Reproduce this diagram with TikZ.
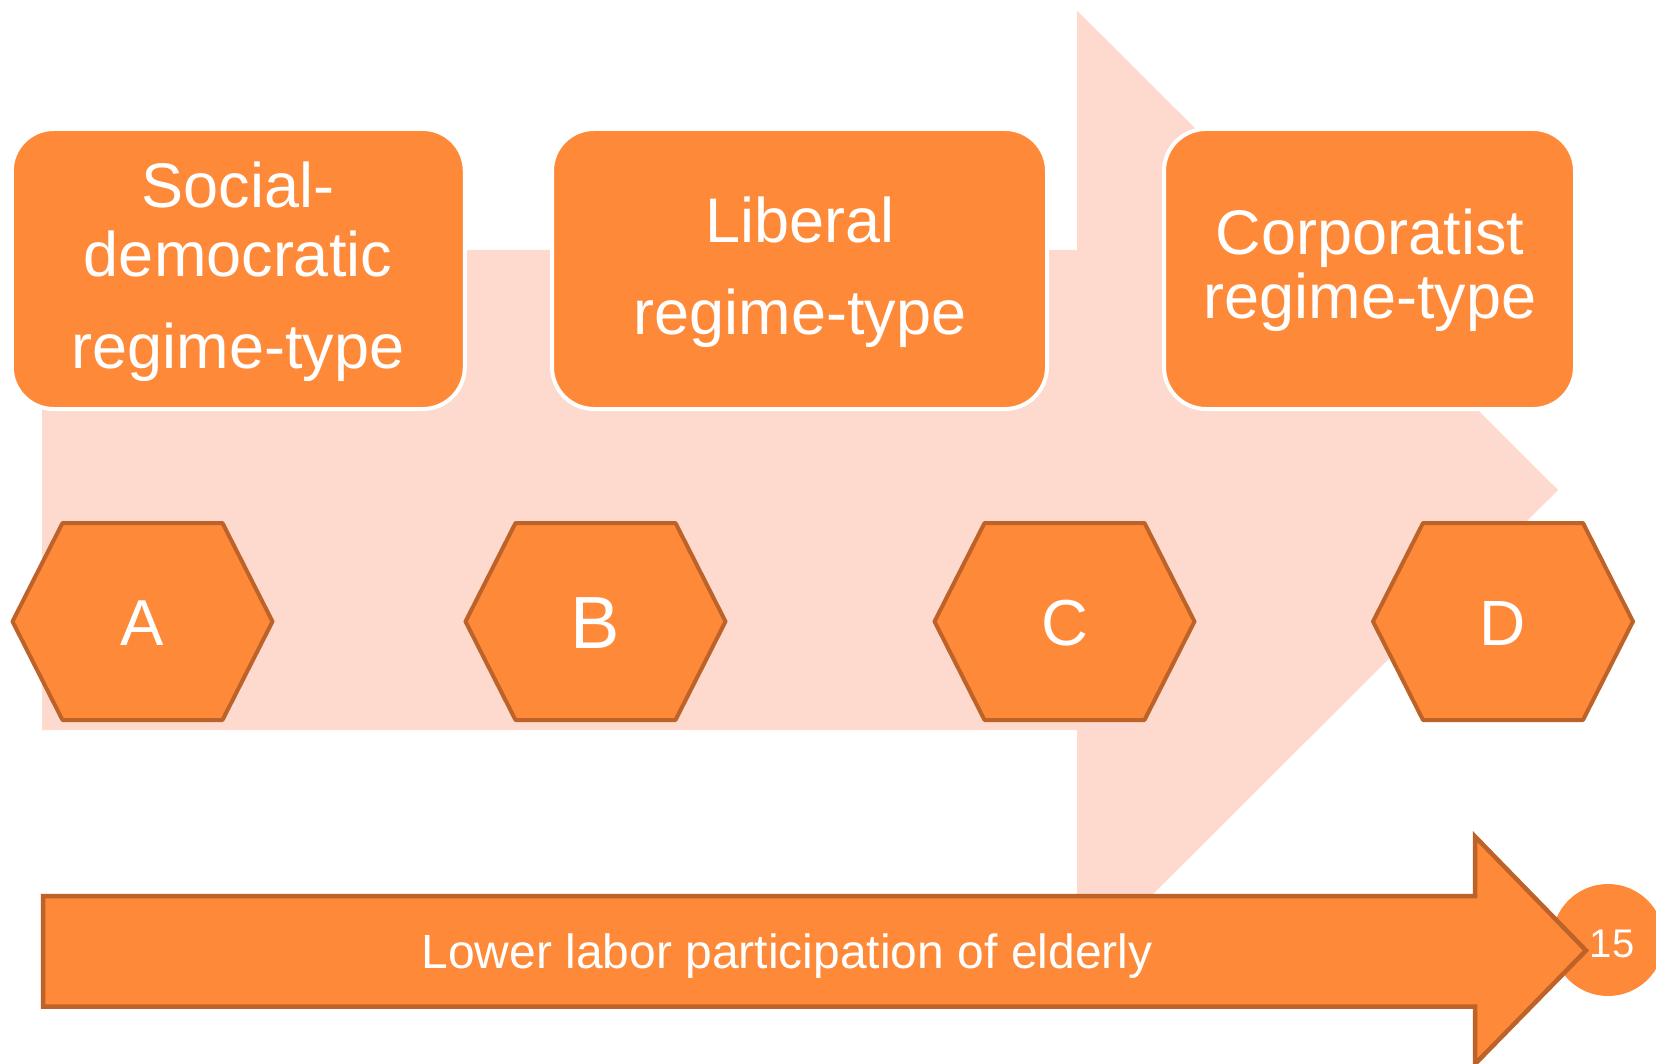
\documentclass[tikz,border=0pt]{standalone}
\usepackage{fontspec}
\setmainfont{Liberation Sans}
\definecolor{orfill}{RGB}{254,137,57}
\definecolor{orline}{RGB}{189,98,40}
\definecolor{pale}{RGB}{253,217,206}
\begin{document}
\begin{tikzpicture}[x=1pt,y=-1pt,
  boxstyle/.style={draw=white,line width=4pt,fill=orfill,rounded corners=42pt,minimum height=280pt,inner sep=0pt},
  boxtext/.style={text=white,align=center,font=\fontsize{63}{69}\selectfont,inner sep=0pt},
  hexstyle/.style={draw=orline,line width=4pt,fill=orfill,line join=round},
  hextext/.style={text=white,inner sep=0pt},
  arrowstyle/.style={draw=orline,line width=4.5pt,fill=orfill,line join=miter}]
\useasboundingbox (0,0) rectangle (1656,1064);
% pale background arrow
\fill[pale] (42,250) -- (1077,250) -- (1077,10.6) -- (1558,490) -- (1077,970) -- (1077,730) -- (42,730) -- cycle;
% rounded boxes
\node[boxstyle,minimum width=453pt] (b1) at (238.3,269) {};
\node[boxstyle,minimum width=495pt] (b2) at (799.5,269) {};
\node[boxstyle,minimum width=411pt] (b3) at (1369.5,269) {};
\node[boxtext] (t1) at (238,272) {Social-\\democratic\\[23pt]regime-type};
\node[boxtext] (t2) at (800,272.5) {Liberal\\[23pt]regime-type};
\node[boxtext,font=\fontsize{63}{64}\selectfont] (t3) at (1370,270) {Corporatist\\regime-type};
% hexagons
\foreach \cx/\lab/\fs in {142.5/A/65,595.5/B/74,1064.5/C/65,1503/D/64}{
  \draw[hexstyle] (\cx-130,621.5) -- (\cx-80,523) -- (\cx+80,523) -- (\cx+130,621.5) -- (\cx+80,720) -- (\cx-80,720) -- cycle;
  \node[hextext,font=\fontsize{\fs}{\fs}\selectfont] (h\lab) at (\cx,623) {\lab};
}
% page number circle
\node[circle,fill=orfill,minimum size=112pt,inner sep=0pt] (pc) at (1608,940) {};
% bottom arrow
\draw[arrowstyle] (43,896) -- (1475,896) -- (1475,836.5) -- (1586,950.5) -- (1475,1064) -- (1475,1006.5) -- (43,1006.5) -- cycle;
\node[text=white,font=\fontsize{48}{52}\selectfont,inner sep=0pt] (lt) at (787,956) {Lower labor participation of elderly};
\node[text=white,font=\fontsize{40}{44}\selectfont,inner sep=0pt] (pn) at (1612,944) {15};
\end{tikzpicture}
\end{document}
